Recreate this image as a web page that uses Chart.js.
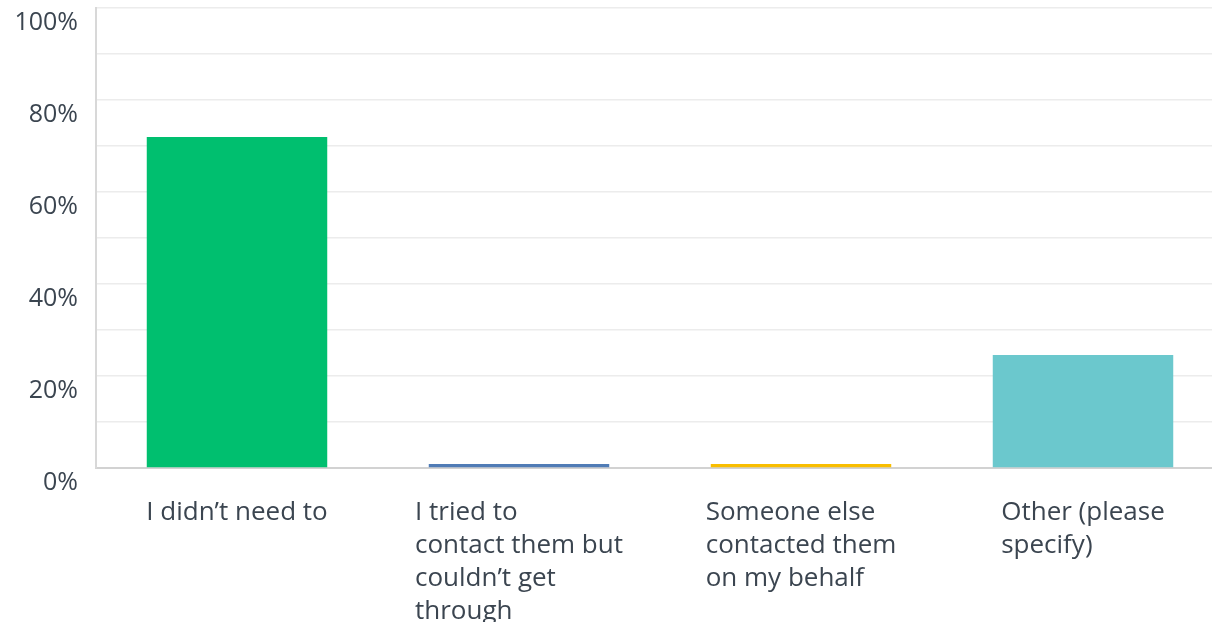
<!DOCTYPE html>
<html>
<head>
<meta charset="utf-8">
<script src="https://cdn.jsdelivr.net/npm/chart.js@4/dist/chart.umd.min.js"></script>
<style>
  html, body { margin: 0; padding: 0; background: #ffffff; overflow: hidden; }
  #wrap { position: relative; width: 1226px; height: 622px; }
</style>
</head>
<body>
<div id="wrap"><canvas id="chart"></canvas></div>
<script>
// Answer choices, each split into the lines shown under its bar
const categories = [
  ["I didn\u2019t need to"],
  ["I tried to", "contact them but", "couldn\u2019t get", "through"],
  ["Someone else", "contacted them", "on my behalf"],
  ["Other (please", "specify)"]
];
// Share of respondents (%)
const responses = [71.93, 0.88, 0.88, 24.56];
const barColors = ["#00bf6f", "#507cb6", "#f9be00", "#6bc8cd"];
const yTickValues = [0, 20, 40, 60, 80, 100];

const FONT = "'Open Sans', 'Noto Sans', sans-serif";
const TEXT_COLOR = "#3b4550";

// Category labels: a left-aligned text block centred under each bar
const categoryLabels = {
  id: "categoryLabels",
  afterDraw(chart) {
    const ctx = chart.ctx;
    const meta = chart.getDatasetMeta(0);
    const base = chart.chartArea.bottom;
    ctx.save();
    ctx.font = "400 26px " + FONT;
    ctx.fillStyle = TEXT_COLOR;
    ctx.textAlign = "left";
    ctx.textBaseline = "middle";
    meta.data.forEach((bar, i) => {
      const { x } = bar.getProps(["x"], true);
      const blockWidth = Math.max(...categories[i].map(l => ctx.measureText(l).width));
      const left = x - blockWidth / 2;
      categories[i].forEach((line, j) => {
        ctx.fillText(line, left, base + 45 + j * 33);
      });
    });
    ctx.restore();
  }
};

new Chart(document.getElementById("chart"), {
  type: "bar",
  data: {
    labels: categories.map(c => c.join(" ")),
    datasets: [{
      data: responses,
      backgroundColor: barColors,
      borderWidth: 0,
      categoryPercentage: 1,
      barPercentage: 0.64
    }]
  },
  options: {
    responsive: true,
    maintainAspectRatio: false,
    animation: false,
    layout: { padding: { top: 8, right: 2, bottom: 154, left: 0 } },
    plugins: {
      legend: { display: false },
      tooltip: { enabled: false }
    },
    scales: {
      x: {
        afterFit(scale) {
          scale.height = 0;
          scale.paddingLeft = 0;
          scale.paddingRight = 0;
        },
        grid: { display: false, drawTicks: false },
        border: { display: true, color: "#d2d2d2", width: 2 },
        ticks: { display: false, padding: 0 }
      },
      y: {
        min: 0,
        max: 100,
        afterFit(scale) {
          scale.width = 96;
          scale.paddingTop = 0;
          scale.paddingBottom = 0;
        },
        grid: { color: "#ececec", lineWidth: 1.5, drawTicks: false },
        border: { display: true, color: "#d8d8d8", width: 2 },
        ticks: {
          stepSize: 10,
          padding: 18,
          labelOffset: 15,
          color: TEXT_COLOR,
          font: { family: FONT, size: 25 },
          callback: v => (yTickValues.includes(v) ? v + "%" : "")
        }
      }
    }
  },
  plugins: [categoryLabels]
});
</script>
</body>
</html>
